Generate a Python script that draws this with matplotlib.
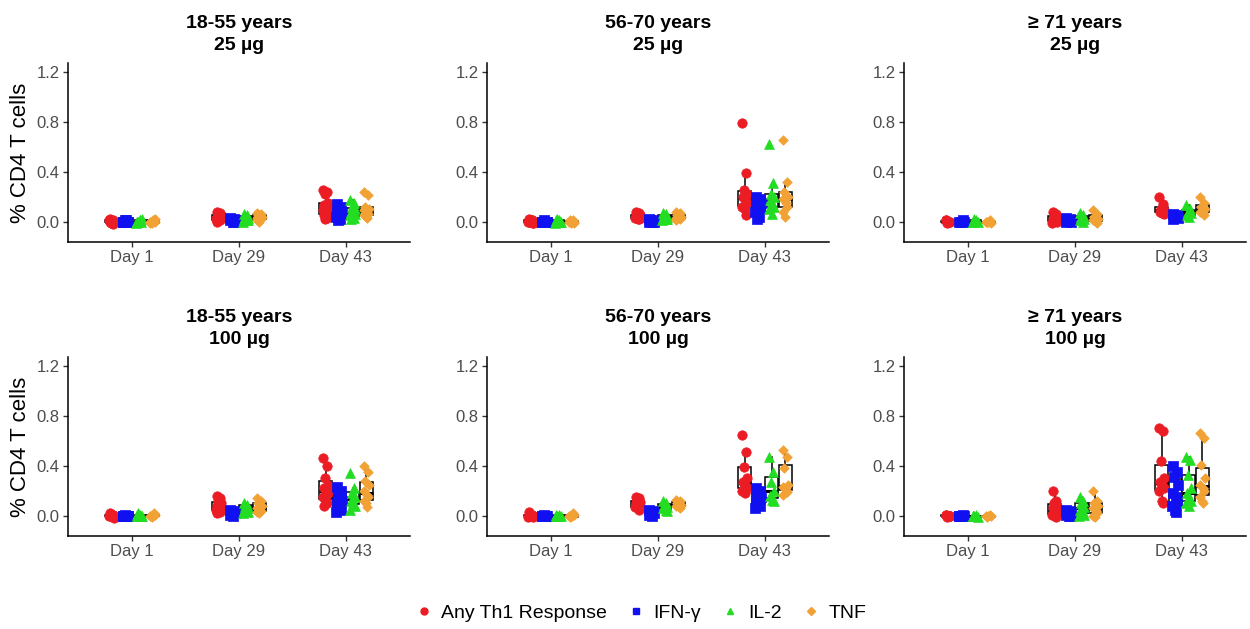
import matplotlib
matplotlib.use("Agg")
import matplotlib.pyplot as plt
from matplotlib.lines import Line2D

plt.rcParams['font.family'] = ['Liberation Sans', 'DejaVu Sans']

ages = ["18-55 years", "56-70 years", "\u2265 71 years"]
doses = ["25 \u00b5g", "100 \u00b5g"]
days = ["Day 1", "Day 29", "Day 43"]
cytokines = ["Any Th1 Response", "IFN-\u03b3", "IL-2", "TNF"]
colors = ["#EC1C24", "#1010F0", "#22DD22", "#F2A235"]
markers = ["o", "s", "^", "D"]

# values per [Th1, IFN-g, IL-2, TNF]
a1855_25_d1 = [[0.0, 0.01, -0.01, 0.0, 0.02, -0.01, 0.0, 0.01, 0.0, -0.02, 0.01],
               [0.0, 0.0, 0.01, 0.0, 0.0, 0.01, 0.0, 0.0, 0.0],
               [0.0, 0.01, 0.0, 0.02, 0.0, 0.01, 0.0, -0.01],
               [0.0, 0.01, -0.01, 0.02, 0.0, 0.01, 0.0, -0.01]]
a1855_25_d29 = [[0.08, 0.07, 0.06, 0.05, 0.04, 0.03, 0.03, 0.02, 0.01, 0.01, 0.0],
                [0.03, 0.02, 0.02, 0.01, 0.01, 0.0, 0.0],
                [0.06, 0.05, 0.04, 0.03, 0.02, 0.01, 0.01, 0.0],
                [0.07, 0.06, 0.05, 0.04, 0.03, 0.02, 0.02, 0.01, 0.0]]
a1855_25_d43 = [[0.25, 0.24, 0.22, 0.15, 0.13, 0.11, 0.1, 0.09, 0.08, 0.06, 0.05, 0.03, 0.02],
                [0.14, 0.12, 0.1, 0.08, 0.07, 0.06, 0.05, 0.04, 0.03, 0.02, 0.01],
                [0.17, 0.15, 0.12, 0.1, 0.08, 0.07, 0.06, 0.05, 0.04, 0.03, 0.02],
                [0.24, 0.21, 0.12, 0.1, 0.09, 0.08, 0.06, 0.05, 0.04, 0.03]]

a5670_25_d1 = [[0.02, 0.01, 0.0, -0.01, 0.0, 0.01, -0.01, 0.0, 0.01, 0.0],
               [0.0, 0.0, 0.01, 0.0, 0.0, 0.0, 0.0],
               [0.0, 0.01, 0.02, 0.0, 0.01, 0.0, 0.0, -0.01],
               [0.0, 0.01, -0.01, 0.0, 0.01, 0.0, -0.01]]
a5670_25_d29 = [[0.08, 0.07, 0.06, 0.05, 0.04, 0.04, 0.03, 0.03, 0.02, 0.02],
                [0.02, 0.01, 0.01, 0.0, 0.0, 0.0],
                [0.07, 0.06, 0.05, 0.04, 0.03, 0.02, 0.02, 0.01],
                [0.08, 0.07, 0.05, 0.04, 0.03, 0.03, 0.02, 0.01]]
a5670_25_d43 = [[0.79, 0.39, 0.25, 0.22, 0.2, 0.18, 0.15, 0.12, 0.1, 0.05],
                [0.2, 0.18, 0.17, 0.15, 0.14, 0.12, 0.1, 0.08, 0.06, 0.04, 0.02],
                [0.62, 0.31, 0.22, 0.2, 0.17, 0.15, 0.12, 0.1, 0.06],
                [0.65, 0.32, 0.24, 0.2, 0.18, 0.15, 0.12, 0.08, 0.04]]

a71_25_d1 = [[0.01, 0.0, -0.01, 0.0, 0.01, 0.0],
             [0.0, 0.01, 0.0, 0.0],
             [0.0, 0.01, 0.02, 0.0, 0.0],
             [0.0, 0.01, 0.0, -0.01, 0.0]]
a71_25_d29 = [[0.08, 0.06, 0.04, 0.03, 0.02, 0.01, 0.0, -0.01],
              [0.03, 0.02, 0.01, 0.0, 0.0],
              [0.07, 0.05, 0.04, 0.02, 0.01, 0.0],
              [0.09, 0.06, 0.04, 0.02, 0.01, 0.0, -0.01]]
a71_25_d43 = [[0.2, 0.14, 0.1, 0.09, 0.08, 0.07, 0.06],
              [0.06, 0.05, 0.04, 0.03, 0.02],
              [0.13, 0.1, 0.08, 0.07, 0.05, 0.04],
              [0.2, 0.15, 0.12, 0.1, 0.08, 0.07, 0.05]]

a1855_100_d1 = [[0.02, 0.01, 0.0, -0.01, 0.0, 0.01, -0.02, 0.0, 0.01, 0.0],
                [0.0, 0.0, 0.01, 0.0, 0.0, 0.0, 0.0],
                [0.0, 0.01, 0.02, 0.0, 0.01, 0.0, 0.0],
                [0.0, 0.02, -0.01, 0.01, 0.0, 0.01]]
a1855_100_d29 = [[0.16, 0.14, 0.12, 0.1, 0.08, 0.07, 0.06, 0.05, 0.04, 0.03, 0.02],
                 [0.05, 0.04, 0.03, 0.02, 0.01, 0.0],
                 [0.1, 0.09, 0.08, 0.06, 0.05, 0.04, 0.03, 0.02],
                 [0.14, 0.12, 0.1, 0.08, 0.06, 0.05, 0.04, 0.03, 0.02]]
a1855_100_d43 = [[0.46, 0.4, 0.3, 0.25, 0.22, 0.2, 0.18, 0.15, 0.12, 0.1, 0.08],
                 [0.23, 0.2, 0.16, 0.12, 0.1, 0.08, 0.05, 0.03],
                 [0.34, 0.22, 0.18, 0.15, 0.12, 0.1, 0.08, 0.05],
                 [0.4, 0.35, 0.28, 0.25, 0.2, 0.17, 0.15, 0.12, 0.1, 0.07]]

a5670_100_d1 = [[0.03, 0.01, 0.0, -0.01, 0.0, 0.01, 0.0, -0.01],
                [0.0, 0.0, 0.01, 0.0, 0.0, 0.0],
                [0.0, 0.01, 0.0, 0.0, 0.01, 0.0],
                [0.0, 0.02, 0.0, 0.01, -0.01, 0.0]]
a5670_100_d29 = [[0.15, 0.14, 0.12, 0.11, 0.1, 0.09, 0.08, 0.07, 0.06, 0.05],
                 [0.05, 0.04, 0.03, 0.02, 0.01, 0.0],
                 [0.12, 0.1, 0.09, 0.07, 0.06, 0.05, 0.04],
                 [0.13, 0.12, 0.1, 0.09, 0.08, 0.07, 0.06]]
a5670_100_d43 = [[0.65, 0.51, 0.39, 0.3, 0.27, 0.25, 0.22, 0.2, 0.18],
                 [0.22, 0.2, 0.18, 0.15, 0.12, 0.1, 0.08, 0.06],
                 [0.47, 0.35, 0.27, 0.2, 0.16, 0.13, 0.12],
                 [0.53, 0.47, 0.38, 0.25, 0.23, 0.21, 0.19, 0.17]]

a71_100_d1 = [[0.01, 0.0, -0.01, 0.0, 0.01, 0.0, 0.0],
              [0.0, 0.01, 0.0, 0.0, 0.0],
              [0.0, 0.01, 0.0, -0.01, 0.0],
              [0.0, 0.01, 0.0, 0.0, -0.01]]
a71_100_d29 = [[0.2, 0.12, 0.1, 0.08, 0.06, 0.04, 0.02, 0.01, 0.0, -0.01],
               [0.05, 0.04, 0.03, 0.02, 0.01, 0.0, 0.0],
               [0.15, 0.12, 0.1, 0.07, 0.05, 0.03, 0.01, 0.0],
               [0.2, 0.12, 0.1, 0.08, 0.06, 0.04, 0.02, 0.0, -0.01]]
a71_100_d43 = [[0.7, 0.68, 0.44, 0.3, 0.27, 0.25, 0.22, 0.2, 0.12, 0.1],
               [0.4, 0.35, 0.31, 0.25, 0.18, 0.15, 0.12, 0.08, 0.05, 0.03],
               [0.47, 0.45, 0.33, 0.22, 0.18, 0.15, 0.12, 0.1, 0.08],
               [0.66, 0.62, 0.41, 0.3, 0.25, 0.22, 0.2, 0.15, 0.12, 0.1]]

panels = {
    (0, 0): [a1855_25_d1, a1855_25_d29, a1855_25_d43],
    (0, 1): [a5670_25_d1, a5670_25_d29, a5670_25_d43],
    (0, 2): [a71_25_d1, a71_25_d29, a71_25_d43],
    (1, 0): [a1855_100_d1, a1855_100_d29, a1855_100_d43],
    (1, 1): [a5670_100_d1, a5670_100_d29, a5670_100_d43],
    (1, 2): [a71_100_d1, a71_100_d29, a71_100_d43],
}

W, H = 1250, 629
fig = plt.figure(figsize=(W / 100, H / 100), dpi=100)

col_left = [68, 487, 904]
ax_w = 342
row_top = [63, 357]
ax_h = 179

offsets = [-0.19, -0.063, 0.063, 0.19]
jit = [-0.02, 0.015, -0.008, 0.025, -0.018, 0.008, 0.02, -0.025, 0.0, 0.012, -0.012, 0.018, -0.004, 0.004]
msizes = [46, 44, 50, 24]

for (r, c), daydata in panels.items():
    ax = fig.add_axes([col_left[c] / W, 1 - (row_top[r] + ax_h) / H, ax_w / W, ax_h / H])
    for di, groups in enumerate(daydata):
        for ci, vals in enumerate(groups):
            pos = di + 1 + offsets[ci]
            ax.boxplot([vals], positions=[pos], widths=0.12, showfliers=False,
                       showcaps=False, patch_artist=True, manage_ticks=False,
                       boxprops=dict(facecolor="white", edgecolor="black", linewidth=1.1),
                       whiskerprops=dict(color="black", linewidth=1.1),
                       medianprops=dict(color="black", linewidth=2.2), zorder=2)
            xs = [pos + jit[k % len(jit)] for k in range(len(vals))]
            ax.scatter(xs, vals, s=msizes[ci], marker=markers[ci], color=colors[ci],
                       edgecolors=colors[ci], linewidths=0.5, zorder=3)
    ax.set_xlim(0.4, 3.6)
    ax.set_ylim(-0.162, 1.27)
    ax.set_xticks([1, 2, 3])
    ax.set_xticklabels(days)
    ax.set_yticks([0.0, 0.4, 0.8, 1.2])
    ax.set_yticklabels(["0.0", "0.4", "0.8", "1.2"])
    for s in ["top", "right"]:
        ax.spines[s].set_visible(False)
    for s in ["left", "bottom"]:
        ax.spines[s].set_linewidth(1.1)
        ax.spines[s].set_color("black")
    ax.tick_params(axis="both", labelsize=12, labelcolor="#4D4D4D", color="#333333",
                   length=3.5, width=1, pad=2.5)
    ax.set_title(f"{ages[c]}\n{doses[r]}", fontsize=14, fontweight="bold",
                 linespacing=1.45, pad=9)
    if c == 0:
        ax.set_ylabel("% CD4 T cells", fontsize=16, labelpad=4)

handles = [Line2D([], [], marker=markers[i], color=colors[i], linestyle="None",
                  markersize=5 if i < 3 else 4) for i in range(4)]
fig.legend(handles, cytokines, loc="center", bbox_to_anchor=(0.512, 1 - 613 / H), ncol=4,
           frameon=False, fontsize=14, handletextpad=0.4, columnspacing=1.0,
           handlelength=1.0)

fig.savefig("out.png", dpi=100)
